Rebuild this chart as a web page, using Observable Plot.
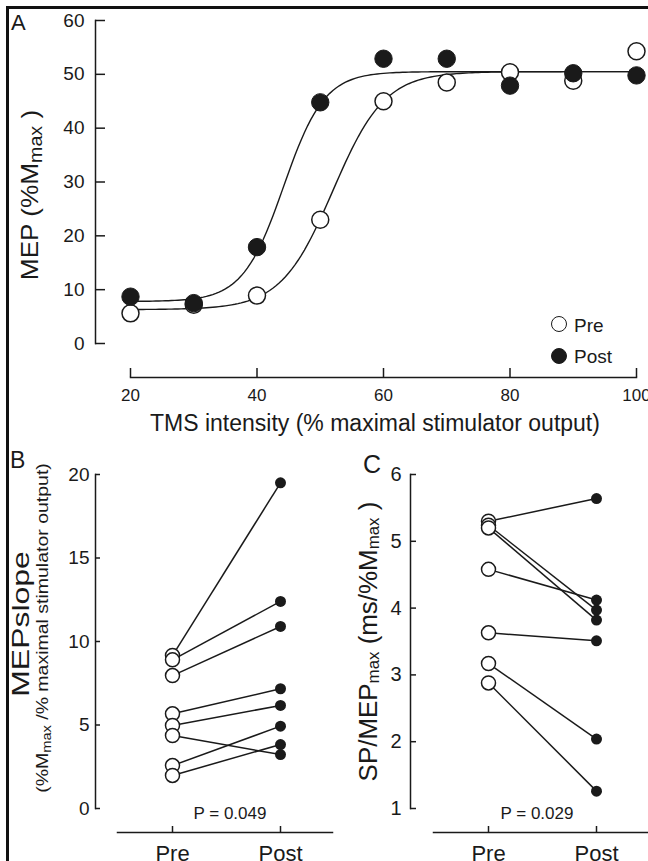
<!DOCTYPE html>
<html><head><meta charset="utf-8">
<script src="https://cdn.jsdelivr.net/npm/d3@7"></script>
<script src="https://cdn.jsdelivr.net/npm/@observablehq/plot@0.6"></script>
<style>
html,body{margin:0;padding:0;background:#fff;}
#wrap{position:relative;width:648px;height:861px;overflow:hidden;font-family:"Liberation Sans",Arial,sans-serif;color:#1a1a1a;background:#fff;}
#wrap svg{position:absolute;left:0;top:0;background:transparent !important;overflow:visible;}
.t{position:absolute;white-space:nowrap;line-height:1;}
.s{font-size:0.75em;vertical-align:-0.22em;line-height:0;}
.s2{font-size:0.65em;vertical-align:-0.12em;line-height:0;}
.bar{position:absolute;background:#111;}
.lg{position:absolute;box-sizing:border-box;border-radius:50%;border:1.5px solid #1a1a1a;}
</style></head><body><div id="wrap"></div>
<script>
// ---- Panel A data ----
const intensity = [20, 30, 40, 50, 60, 70, 80, 90, 100];
const mepPre  = [5.6, 7.2, 8.9, 23.0, 45.0, 48.5, 50.4, 48.8, 54.3];
const mepPost = [8.7, 7.5, 17.9, 44.8, 52.9, 52.9, 47.9, 50.2, 49.8];
// Boltzmann fit parameters: [bottom, top, x50, slope k]
const fitPre  = [6.3, 50.5, 52.0, 4.1];
const fitPost = [7.8, 50.5, 44.2, 3.23];
const xTicksA = [20, 40, 60, 80, 100];
const yTicksA = [0, 10, 20, 30, 40, 50, 60];
const legendLabels = ["Pre", "Post"];

// ---- Panel B data ----
const groups = ["Pre", "Post"];
const slopePre  = [9.16, 8.9, 7.96, 5.67, 4.97, 4.37, 2.57, 1.98];
const slopePost = [19.5, 12.4, 10.9, 7.17, 6.17, 3.23, 4.93, 3.83];
const yTicksB = [0, 5, 10, 15, 20];

// ---- Panel C data ----
const spPre  = [5.30, 5.24, 5.20, 4.58, 3.63, 3.17, 2.88];
const spPost = [5.64, 3.97, 3.82, 4.12, 3.51, 2.04, 1.26];
const yTicksC = [1, 2, 3, 4, 5, 6];

const pValues = ["P = 0.049", "P = 0.029"];

const ink = "#1a1a1a";
const wrap = document.getElementById("wrap");
const common = {width: 648, height: 861, style: {fontFamily: '"Liberation Sans", Arial, sans-serif', color: ink}};
const intFmt = d3.format("d");

// fitted curves
const boltz = ([b, t, x50, k]) => x => b + (t - b) / (1 + Math.exp((x50 - x) / k));
const xs = d3.range(intensity[0], intensity[intensity.length - 1] + 0.001, 0.5);
const curves = [
  ...xs.map(x => ({x, y: boltz(fitPre)(x), g: "Pre"})),
  ...xs.map(x => ({x, y: boltz(fitPost)(x), g: "Post"}))
];
const ptsA = intensity.map((x, i) => ({x, pre: mepPre[i], post: mepPost[i]}));

const A = Plot.plot({
  ...common,
  marginLeft: 95, marginRight: 12, marginTop: 20, marginBottom: 484,
  x: {domain: [20, 100], range: [130, 636]},
  y: {domain: [0, 60], range: [343, 20]},
  marks: [
    Plot.frame({anchor: "left", insetBottom: 34, stroke: ink, strokeWidth: 1.5}),
    Plot.frame({anchor: "bottom", insetLeft: 35, stroke: ink, strokeWidth: 1.5}),
    Plot.axisY({ticks: yTicksA, tickFormat: intFmt, tickSize: -10, tickPadding: 21, label: null, fontSize: 19, strokeWidth: 1.5}),
    Plot.axisX({ticks: xTicksA, tickFormat: intFmt, tickSize: -9, tickPadding: 20, label: null, fontSize: 17, strokeWidth: 1.5}),
    Plot.line(curves, {x: "x", y: "y", z: "g", stroke: ink, strokeWidth: 1.4}),
    Plot.dot(ptsA, {x: "x", y: "pre", r: 8.5, fill: "white", stroke: ink, strokeWidth: 1.5}),
    Plot.dot(ptsA, {x: "x", y: "post", r: 8.7, fill: ink, stroke: ink, strokeWidth: 1})
  ]
});
wrap.appendChild(A);

const rowsB = slopePre.map((v, i) => ({pre: v, post: slopePost[i]}));
const B = Plot.plot({
  ...common,
  marginLeft: 95, marginRight: 316, marginTop: 474, marginBottom: 29,
  x: {type: "point", padding: 0, domain: groups, range: [172, 280]},
  y: {domain: [0, 20], range: [808, 474]},
  marks: [
    Plot.frame({anchor: "left", insetBottom: 24, stroke: ink, strokeWidth: 1.5}),
    Plot.frame({anchor: "bottom", insetLeft: 22, stroke: ink, strokeWidth: 1.5}),
    Plot.axisY({ticks: yTicksB, tickFormat: intFmt, tickSize: -5, tickPadding: 11, label: null, fontSize: 19, strokeWidth: 1.5}),
    Plot.axisX({tickSize: -6, tickPadding: 19, label: null, fontSize: 22, strokeWidth: 1.5}),
    Plot.link(rowsB, {x1: () => groups[0], x2: () => groups[1], y1: "pre", y2: "post", stroke: ink, strokeWidth: 1.5}),
    Plot.dot(rowsB, {x: () => groups[0], y: "pre", r: 7, fill: "white", stroke: ink, strokeWidth: 1.5}),
    Plot.dot(rowsB, {x: () => groups[1], y: "post", r: 5.5, fill: ink})
  ]
});
wrap.appendChild(B);

const rowsC = spPre.map((v, i) => ({pre: v, post: spPost[i]}));
const C = Plot.plot({
  ...common,
  marginLeft: 410, marginRight: 0, marginTop: 474, marginBottom: 29,
  x: {type: "point", padding: 0, domain: groups, range: [488, 596]},
  y: {domain: [1, 6], range: [808, 474]},
  marks: [
    Plot.frame({anchor: "left", insetBottom: 24, stroke: ink, strokeWidth: 1.5}),
    Plot.frame({anchor: "bottom", insetLeft: 23, stroke: ink, strokeWidth: 1.5}),
    Plot.axisY({ticks: yTicksC, tickFormat: intFmt, tickSize: -6, tickPadding: 15, label: null, fontSize: 20, strokeWidth: 1.5}),
    Plot.axisX({tickSize: -6, tickPadding: 19, label: null, fontSize: 22, strokeWidth: 1.5}),
    Plot.link(rowsC, {x1: () => groups[0], x2: () => groups[1], y1: "pre", y2: "post", stroke: ink, strokeWidth: 1.5}),
    Plot.dot(rowsC, {x: () => groups[0], y: "pre", r: 7, fill: "white", stroke: ink, strokeWidth: 1.5}),
    Plot.dot(rowsC, {x: () => groups[1], y: "post", r: 5.5, fill: ink})
  ]
});
wrap.appendChild(C);

// ---- frame border ----
function bar(l, t, w, h) { const d = document.createElement("div"); d.className = "bar"; Object.assign(d.style, {left: l + "px", top: t + "px", width: w + "px", height: h + "px"}); wrap.appendChild(d); }
bar(6, 6, 642, 2.5);
bar(6, 6, 2.5, 855);

// ---- text helpers ----
function txt(html, x, baseline, size, anchor = "start") {
  const d = document.createElement("div"); d.className = "t"; d.innerHTML = html;
  d.style.fontSize = size + "px"; d.style.top = (baseline - 0.8465 * size) + "px";
  wrap.appendChild(d);
  const w = d.offsetWidth;
  d.style.left = (anchor === "middle" ? x - w / 2 : anchor === "end" ? x - w : x) + "px";
  return d;
}
function vtxt(html, cx, cy, size, len) {
  const d = document.createElement("div"); d.className = "t"; d.innerHTML = html;
  d.style.fontSize = size + "px"; wrap.appendChild(d);
  const w = d.offsetWidth, h = d.offsetHeight;
  const s = len ? len / w : 1;
  d.style.left = (cx - w / 2) + "px"; d.style.top = (cy - h / 2) + "px";
  d.style.transform = `rotate(-90deg) scaleX(${s})`;
  return d;
}
function legendDot(cx, cy, r, filled) {
  const d = document.createElement("div"); d.className = "lg";
  Object.assign(d.style, {left: (cx - r) + "px", top: (cy - r) + "px", width: 2 * r + "px", height: 2 * r + "px", background: filled ? ink : "#fff"});
  wrap.appendChild(d);
}

// Panel A text
txt("A", 11, 31, 22);
vtxt('MEP (%M<span class="s">max</span> )', 30, 195, 24, 170);
txt("TMS intensity (% maximal stimulator output)", 375, 431, 23, "middle");
legendDot(559, 324, 8, false);
legendDot(559, 356, 8, true);
txt(legendLabels[0], 574, 332, 19);
txt(legendLabels[1], 574, 363, 19);

// Panel B text
txt("B", 10, 468, 23);
vtxt("MEPslope", 20, 624, 24, 145);
vtxt('(%M<span class="s">max</span> /% maximal stimulator output)', 43, 628, 16, 330);
txt(pValues[0], 230, 819, 17, "middle");

// Panel C text
txt("C", 363, 473, 25);
vtxt('SP/MEP<span class="s2">max</span> (ms/%M<span class="s2">max</span> )', 369, 641, 25, 280);
txt(pValues[1], 537, 819, 17, "middle");
</script></body></html>
